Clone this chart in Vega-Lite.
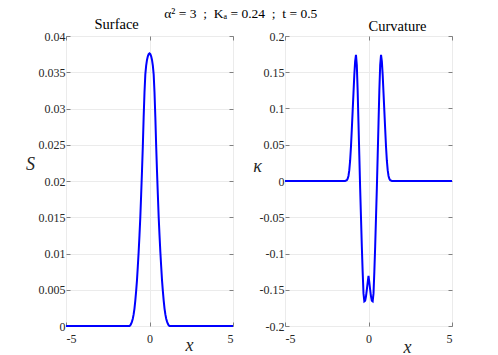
{
  "$schema": "https://vega.github.io/schema/vega-lite/v6.json",
  "background": "white",
  "padding": {"left": 25, "top": 7, "right": 5, "bottom": 0},
  "title": {"text": "α² = 3\u00a0\u00a0;\u00a0\u00a0Kₐ = 0.24\u00a0\u00a0;\u00a0\u00a0t = 0.5", "font": "Liberation Serif", "fontSize": 13.5, "fontWeight": "normal", "anchor": "middle", "offset": 0, "dy": 5, "color": "black"},
  "datasets": {
    "surf": [
      {"x": -5, "S": 0}, {"x": -1.2, "S": 0}, {"x": -1.15, "S": 0.0001}, {"x": -1.1, "S": 0.0003}, {"x": -1.05, "S": 0.0006},
      {"x": -1.0, "S": 0.001}, {"x": -0.95, "S": 0.0016}, {"x": -0.9, "S": 0.0024}, {"x": -0.85, "S": 0.0035}, {"x": -0.8, "S": 0.0048},
      {"x": -0.75, "S": 0.0063}, {"x": -0.7, "S": 0.0082}, {"x": -0.65, "S": 0.0102}, {"x": -0.6, "S": 0.0125}, {"x": -0.55, "S": 0.015},
      {"x": -0.5, "S": 0.0181}, {"x": -0.45, "S": 0.0213}, {"x": -0.4, "S": 0.0248}, {"x": -0.35, "S": 0.0288}, {"x": -0.3, "S": 0.0322},
      {"x": -0.25, "S": 0.0347}, {"x": -0.2, "S": 0.0359}, {"x": -0.15, "S": 0.0367}, {"x": -0.1, "S": 0.0372}, {"x": -0.05, "S": 0.0375},
      {"x": 0, "S": 0.0376},
      {"x": 0.05, "S": 0.0375}, {"x": 0.1, "S": 0.0372}, {"x": 0.15, "S": 0.0367}, {"x": 0.2, "S": 0.0359}, {"x": 0.25, "S": 0.0347},
      {"x": 0.3, "S": 0.0322}, {"x": 0.35, "S": 0.0288}, {"x": 0.4, "S": 0.0248}, {"x": 0.45, "S": 0.0213}, {"x": 0.5, "S": 0.0181},
      {"x": 0.55, "S": 0.015}, {"x": 0.6, "S": 0.0125}, {"x": 0.65, "S": 0.0102}, {"x": 0.7, "S": 0.0082}, {"x": 0.75, "S": 0.0063},
      {"x": 0.8, "S": 0.0048}, {"x": 0.85, "S": 0.0035}, {"x": 0.9, "S": 0.0024}, {"x": 0.95, "S": 0.0016}, {"x": 1.0, "S": 0.001},
      {"x": 1.05, "S": 0.0006}, {"x": 1.1, "S": 0.0003}, {"x": 1.15, "S": 0.0001}, {"x": 1.2, "S": 0}, {"x": 5, "S": 0}
    ],
    "curv": [
      {"x": -5, "k": 0}, {"x": -1.4, "k": 0}, {"x": -1.3, "k": 0.001}, {"x": -1.25, "k": 0.003}, {"x": -1.2, "k": 0.007},
      {"x": -1.15, "k": 0.015}, {"x": -1.1, "k": 0.028}, {"x": -1.05, "k": 0.047}, {"x": -1.0, "k": 0.071}, {"x": -0.95, "k": 0.096},
      {"x": -0.9, "k": 0.121}, {"x": -0.85, "k": 0.146}, {"x": -0.8, "k": 0.165}, {"x": -0.75, "k": 0.174}, {"x": -0.7, "k": 0.16},
      {"x": -0.65, "k": 0.125}, {"x": -0.6, "k": 0.08}, {"x": -0.55, "k": 0.035}, {"x": -0.5, "k": -0.01}, {"x": -0.45, "k": -0.05},
      {"x": -0.4, "k": -0.09}, {"x": -0.35, "k": -0.125}, {"x": -0.3, "k": -0.155}, {"x": -0.25, "k": -0.166}, {"x": -0.2, "k": -0.165},
      {"x": -0.15, "k": -0.159}, {"x": -0.1, "k": -0.15}, {"x": -0.05, "k": -0.14}, {"x": 0, "k": -0.131},
      {"x": 0.05, "k": -0.14}, {"x": 0.1, "k": -0.15}, {"x": 0.15, "k": -0.159}, {"x": 0.2, "k": -0.165}, {"x": 0.25, "k": -0.166},
      {"x": 0.3, "k": -0.155}, {"x": 0.35, "k": -0.125}, {"x": 0.4, "k": -0.09}, {"x": 0.45, "k": -0.05}, {"x": 0.5, "k": -0.01},
      {"x": 0.55, "k": 0.035}, {"x": 0.6, "k": 0.08}, {"x": 0.65, "k": 0.125}, {"x": 0.7, "k": 0.16}, {"x": 0.75, "k": 0.174},
      {"x": 0.8, "k": 0.165}, {"x": 0.85, "k": 0.146}, {"x": 0.9, "k": 0.121}, {"x": 0.95, "k": 0.096}, {"x": 1.0, "k": 0.071},
      {"x": 1.05, "k": 0.047}, {"x": 1.1, "k": 0.028}, {"x": 1.15, "k": 0.015}, {"x": 1.2, "k": 0.007}, {"x": 1.25, "k": 0.003},
      {"x": 1.3, "k": 0.001}, {"x": 1.4, "k": 0}, {"x": 5, "k": 0}
    ]
  },
  "spacing": 52,
  "bounds": "flush",
  "hconcat": [
    {
      "width": 167,
      "height": 290,
      "data": {"name": "surf"},
      "layer": [
        {
          "mark": {"type": "line", "color": "#0000ff", "strokeWidth": 2},
          "encoding": {
            "x": {"field": "x", "type": "quantitative", "scale": {"domain": [-5, 5], "nice": false, "zero": false},
                  "axis": {"orient": "bottom", "values": [-5, 0, 5], "labelExpr": "replace(format(datum.value, 'd'), '−', '-')", "labelFont": "Liberation Serif", "labelPadding": 11, "title": "x", "titleX": 123, "titleY": 19}},
            "y": {"field": "S", "type": "quantitative", "scale": {"domain": [0, 0.04], "nice": false},
                  "axis": {"orient": "left", "values": [0, 0.005, 0.01, 0.015, 0.02, 0.025, 0.03, 0.035, 0.04], "format": ".3~f", "labelFont": "Liberation Serif", "labelPadding": 5, "title": "S", "titleAngle": 0, "titleX": -36, "titleY": 128}}
          }
        },
        {
          "mark": {"type": "line", "opacity": 0},
          "encoding": {
            "x": {"field": "x", "type": "quantitative", "scale": {"domain": [-5, 5], "nice": false, "zero": false},
                  "axis": {"orient": "top", "values": [-5, 0, 5], "labels": false, "grid": false, "title": "Surface", "titleX": 28, "titleY": -8, "titleAlign": "left", "titleBaseline": "alphabetic", "titleFontStyle": "normal", "titleFontSize": 14.5, "titleColor": "black"}},
            "y": {"field": "S", "type": "quantitative", "scale": {"domain": [0, 0.04], "nice": false},
                  "axis": {"orient": "right", "values": [0, 0.005, 0.01, 0.015, 0.02, 0.025, 0.03, 0.035, 0.04], "labels": false, "grid": false, "title": null}}
          }
        }
      ],
      "resolve": {"axis": {"x": "independent", "y": "independent"}}
    },
    {
      "width": 167,
      "height": 290,
      "data": {"name": "curv"},
      "layer": [
        {
          "mark": {"type": "line", "color": "#0000ff", "strokeWidth": 2},
          "encoding": {
            "x": {"field": "x", "type": "quantitative", "scale": {"domain": [-5, 5], "nice": false, "zero": false},
                  "axis": {"orient": "bottom", "values": [-5, 0, 5], "labelExpr": "replace(format(datum.value, 'd'), '−', '-')", "labelFont": "Liberation Serif", "labelPadding": 11, "title": "x", "titleX": 122, "titleY": 21}},
            "y": {"field": "k", "type": "quantitative", "scale": {"domain": [-0.2, 0.2], "nice": false, "zero": false},
                  "axis": {"orient": "left", "values": [-0.2, -0.15, -0.1, -0.05, 0, 0.05, 0.1, 0.15, 0.2], "labelFont": "Liberation Serif", "labelPadding": 5, "labelExpr": "replace(format(datum.value, '.2~f'), '−', '-')", "title": "κ", "titleAngle": 0, "titleX": -28, "titleY": 130}}
          }
        },
        {
          "mark": {"type": "line", "opacity": 0},
          "encoding": {
            "x": {"field": "x", "type": "quantitative", "scale": {"domain": [-5, 5], "nice": false, "zero": false},
                  "axis": {"orient": "top", "values": [-5, 0, 5], "labels": false, "grid": false, "title": "Curvature", "titleX": 83, "titleY": -6, "titleAlign": "left", "titleBaseline": "alphabetic", "titleFontStyle": "normal", "titleFontSize": 14.5, "titleColor": "black"}},
            "y": {"field": "k", "type": "quantitative", "scale": {"domain": [-0.2, 0.2], "nice": false, "zero": false},
                  "axis": {"orient": "right", "values": [-0.2, -0.15, -0.1, -0.05, 0, 0.05, 0.1, 0.15, 0.2], "labels": false, "grid": false, "title": null}}
          }
        }
      ],
      "resolve": {"axis": {"x": "independent", "y": "independent"}}
    }
  ],
  "config": {
    "font": "Liberation Serif",
    "view": {"stroke": "#808080", "strokeWidth": 1},
    "title": {"font": "Liberation Serif", "fontSize": 14.5, "fontWeight": "normal", "color": "black"},
    "axis": {
      "domain": false,
      "tickColor": "#808080",
      "tickSize": -4,
      "labelFont": "Liberation Serif",
      "labelFontSize": 12,
      "labelColor": "#262626",
      "gridColor": "#ebebeb",
      "gridWidth": 1,
      "titleFont": "Liberation Serif",
      "titleFontStyle": "italic",
      "titleFontWeight": "normal",
      "titleFontSize": 18,
      "titleColor": "#262626",
      "titleBaseline": "middle",
      "titleAlign": "center"
    }
  }
}
